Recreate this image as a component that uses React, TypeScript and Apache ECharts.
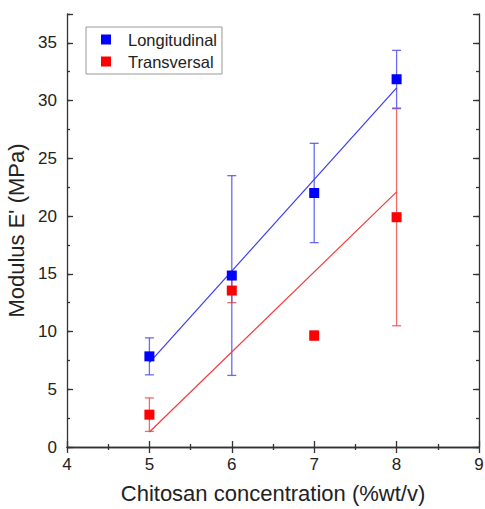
import React, { useEffect, useRef } from "react";
import * as echarts from "echarts";

const conc = [5, 6, 7, 8];
const longMean = [7.85, 14.85, 22.0, 31.85];
const longErr = [1.6, 8.65, 4.3, 2.5];
const transMean = [2.8, 13.55, 9.65, 19.9];
const transErr = [1.45, 1.05, 0.4, 9.4];
const fitX = [5, 8];
const longFit = [7.3, 31.1];
const transFit = [1.3, 22.1];
const xTicks = [4, 5, 6, 7, 8, 9];
const yTicks = [0, 5, 10, 15, 20, 25, 30, 35];

const FONT = "Liberation Sans, Arial, sans-serif";

export default function App() {
  const ref = useRef<HTMLDivElement>(null);
  useEffect(() => {
    const chart = echarts.init(ref.current!, null, { renderer: "svg" });
    const errBar = (name: string, mean: number[], err: number[], color: string) => ({
      type: "custom",
      name,
      xAxisIndex: 0,
      yAxisIndex: 0,
      z: 2,
      data: conc.map((x, i) => [x, mean[i] - err[i], mean[i] + err[i]]),
      encode: { x: 0, y: [1, 2] },
      renderItem: (params: any, api: any) => {
        const x = api.value(0);
        const top = api.coord([x, api.value(2)]);
        const bot = api.coord([x, api.value(1)]);
        const w = 4.5;
        const style = { stroke: color, lineWidth: 1.3 };
        return {
          type: "group",
          children: [
            { type: "line", shape: { x1: top[0], y1: top[1], x2: bot[0], y2: bot[1] }, style },
            { type: "line", shape: { x1: top[0] - w, y1: top[1], x2: top[0] + w, y2: top[1] }, style },
            { type: "line", shape: { x1: bot[0] - w, y1: bot[1], x2: bot[0] + w, y2: bot[1] }, style },
          ],
        };
      },
      silent: true,
    });
    const axisLine = { show: true, lineStyle: { color: "#333", width: 1.3 } };
    const labelStyle = { color: "#222", fontSize: 17, fontFamily: FONT };
    const tickStyle = { color: "#333", width: 1.3 };
    chart.setOption({
      animation: false,
      grid: { left: 67, right: 6, top: 14, bottom: 62, containLabel: false, outerBoundsMode: "none" },
      legend: {
        data: ["Longitudinal", "Transversal"],
        orient: "vertical",
        left: 86,
        top: 27,
        padding: [4, 5, 4, 15],
        itemGap: 5,
        itemWidth: 10,
        itemHeight: 10,
        borderColor: "#999",
        borderWidth: 1,
        backgroundColor: "#fff",
        icon: "rect",
        textStyle: { color: "#222", fontSize: 16.5, fontFamily: FONT, padding: [0, 0, 0, 12] },
      },
      xAxis: [
        {
          type: "value", min: 4, max: 9, interval: 1, position: "bottom",
          axisLine,
          axisTick: { show: true, inside: true, length: 6, lineStyle: tickStyle },
          minorTick: { show: true, splitNumber: 2, length: 3, lineStyle: tickStyle },
          splitLine: { show: false },
          axisLabel: { ...labelStyle, margin: 9, formatter: (v: number) => (xTicks.includes(v) ? String(v) : "") },
          name: "Chitosan concentration (%wt/v)",
          nameLocation: "middle",
          nameGap: 35,
          nameTextStyle: { color: "#222", fontSize: 22, fontFamily: FONT },
        },
        {
          type: "value", min: 4, max: 9, interval: 1, position: "top",
          axisLine,
          axisTick: { show: true, inside: true, length: 6, lineStyle: tickStyle },
          minorTick: { show: true, splitNumber: 2, length: 3, lineStyle: tickStyle },
          splitLine: { show: false },
          axisLabel: { show: false },
        },
      ],
      yAxis: [
        {
          type: "value", min: 0, max: 37.5, interval: 5, position: "left",
          axisLine,
          axisTick: { show: true, inside: true, length: 6, lineStyle: tickStyle },
          splitLine: { show: false },
          axisLabel: { ...labelStyle, margin: 10, formatter: (v: number) => (yTicks.includes(v) ? String(v) : "") },
          name: "Modulus E' (MPa)",
          nameLocation: "middle",
          nameGap: 36,
          nameTextStyle: { color: "#222", fontSize: 22, fontFamily: FONT },
        },
        {
          type: "value", min: 0, max: 37.5, interval: 2.5, position: "left",
          axisLine: { show: false },
          axisTick: { show: true, inside: true, length: 3, lineStyle: tickStyle },
          splitLine: { show: false },
          axisLabel: { show: false },
        },
        {
          type: "value", min: 0, max: 37.5, interval: 5, position: "right",
          axisLine,
          axisTick: { show: true, inside: true, length: 6, lineStyle: tickStyle },
          splitLine: { show: false },
          axisLabel: { show: false },
        },
        {
          type: "value", min: 0, max: 37.5, interval: 2.5, position: "right",
          axisLine: { show: false },
          axisTick: { show: true, inside: true, length: 3, lineStyle: tickStyle },
          splitLine: { show: false },
          axisLabel: { show: false },
        },
      ],
      series: [
        errBar("errT", transMean, transErr, "rgba(238,80,80,0.85)"),
        errBar("errL", longMean, longErr, "rgba(80,80,240,0.85)"),
        {
          type: "line", name: "fitL", data: fitX.map((x, i) => [x, longFit[i]]),
          symbol: "none", lineStyle: { color: "#3a3af5", width: 1.2 }, z: 3, silent: true,
        },
        {
          type: "line", name: "fitT", data: fitX.map((x, i) => [x, transFit[i]]),
          symbol: "none", lineStyle: { color: "#f23a3a", width: 1.2 }, z: 3, silent: true,
        },
        {
          type: "scatter", name: "Longitudinal", data: conc.map((x, i) => [x, longMean[i]]),
          symbol: "rect", symbolSize: 10, itemStyle: { color: "#0000ff", opacity: 1 }, z: 4,
        },
        {
          type: "scatter", name: "Transversal", data: conc.map((x, i) => [x, transMean[i]]),
          symbol: "rect", symbolSize: 10, itemStyle: { color: "#ff0000", opacity: 1 }, z: 4,
        },
      ],
    });
    return () => chart.dispose();
  }, []);
  return <div ref={ref} style={{ width: 485, height: 509, position: "absolute", left: 0, top: 0 }} />;
}
